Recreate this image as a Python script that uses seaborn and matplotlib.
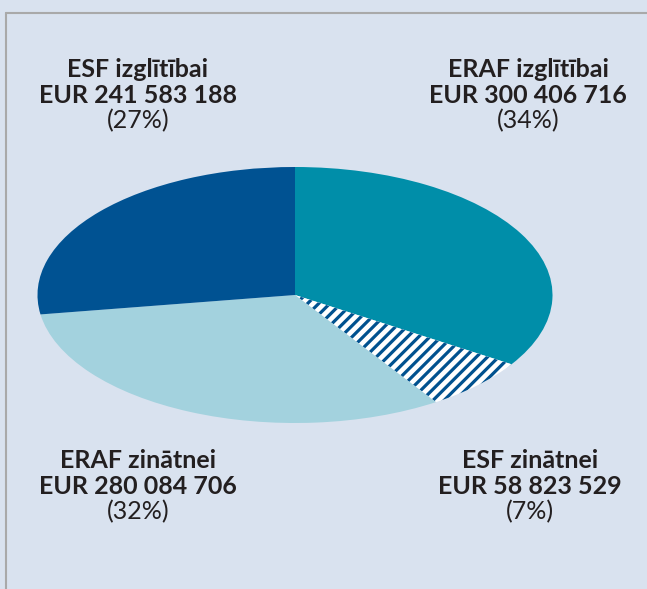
import numpy as np
import matplotlib
matplotlib.use("Agg")
import matplotlib.pyplot as plt
import seaborn as sns
from matplotlib import font_manager
from matplotlib.lines import Line2D

# --- data ---
categories = ["ERAF izglītībai", "ESF zinātnei", "ERAF zinātnei", "ESF izglītībai"]
amounts = [300406716, 58823529, 280084706, 241583188]
amount_labels = ["EUR 300 406 716", "EUR 58 823 529", "EUR 280 084 706", "EUR 241 583 188"]
pct_labels = ["(34%)", "(7%)", "(32%)", "(27%)"]

colors = ["#008ea9", "#ffffff", "#a3d2de", "#005292"]
navy = "#00518f"
bg = "#d9e2ef"

sns.set_theme(style="white")

# pick a narrow font if we have one
try:
    font_manager.findfont("Liberation Sans Narrow", fallback_to_default=False)
    fam, fsize = ["Liberation Sans Narrow", "DejaVu Sans"], 18
except Exception:
    fam, fsize = ["Lato", "DejaVu Sans"], 18
plt.rcParams["font.family"] = fam
plt.rcParams["hatch.linewidth"] = 2.3

W, H = 647, 589
fig = plt.figure(figsize=(W / 100, H / 100), dpi=100, facecolor=bg)
ax = fig.add_axes([0, 0, 1, 1])
ax.patch.set_alpha(0)

wedges, _ = ax.pie(amounts, colors=colors, startangle=90, counterclock=False,
                   wedgeprops=dict(linewidth=0))
hw = wedges[1]
hw.set_hatch("///")
hw.set_edgecolor(navy)
try:
    hw.set_hatchcolor(navy)
except AttributeError:
    pass

# squash the pie into an ellipse: centre (295, 295) px, radii 257 x 128 px
cx, cy, rx, ry = 295, 295, 257.5, 128
ax.set_aspect("auto")
ax.set_xlim(-cx / rx, (W - cx) / rx)
ax.set_ylim(-(H - cy) / ry, cy / ry)
ax.axis("off")

# frame lines
fig.add_artist(Line2D([6 / W, 1], [1 - 13 / H, 1 - 13 / H], color="#a9a9a9", lw=1.5))
fig.add_artist(Line2D([6 / W, 6 / W], [0, 1 - 13 / H], color="#a9a9a9", lw=1.5))

# labels: (x centre, first baseline) in pixels
label_pos = [(528, 77), (530, 468), (138, 468), (138, 77)]
txt = "#231f20"
for i, (x, y) in enumerate(label_pos):
    fig.text(x / W, 1 - y / H, categories[i], ha="center", va="baseline",
             fontsize=fsize, fontweight="bold", color=txt)
    fig.text(x / W, 1 - (y + 26) / H, amount_labels[i], ha="center", va="baseline",
             fontsize=fsize, fontweight="bold", color=txt)
    fig.text(x / W, 1 - (y + 51) / H, pct_labels[i], ha="center", va="baseline",
             fontsize=fsize, color=txt)

fig.savefig("out.png", dpi=100, facecolor=bg)
